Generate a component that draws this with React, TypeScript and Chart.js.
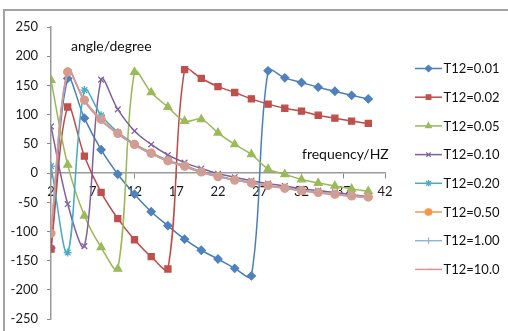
import React, { useEffect, useRef } from 'react';
import { Chart, registerables } from 'chart.js';
import { drawPoint } from 'chart.js/helpers';

Chart.register(...registerables);

const frequencies = [2, 4, 6, 8, 10, 12, 14, 16, 18, 20, 22, 24, 26, 28, 30, 32, 34, 36, 38, 40];
const xTickValues = [2, 7, 12, 17, 22, 27, 32, 37, 42];
const seriesNames = ['T12=0.01', 'T12=0.02', 'T12=0.05', 'T12=0.10', 'T12=0.20', 'T12=0.50', 'T12=1.00', 'T12=10.0'];

const t001 = [-128, 162, 94, 40, -2, -36, -66, -90, -113, -132, -147, -163, -176, 175, 163, 155, 147, 140, 133, 127];
const t002 = [-130, 113, 29, -33, -78, -114, -143, -164, 177, 162, 148, 138, 127, 118, 111, 106, 99, 94, 89, 85];
const t005 = [159, 14, -73, -127, -164, 173, 138, 113, 89, 92, 69, 49, 32, 7, -2, -11, -17, -22, -27, -31];
const t010 = [80, -53, -125, 160, 109, 72, 49, 31, 18, 8, -1, -7, -13, -18, -22, -27, -30, -33, -37, -40];
const t020 = [12, -136, 142, 99, 70, 50, 35, 22, 13, 3, -5, -11, -16, -21, -25, -29, -33, -36, -39, -41];
const t050 = [-103, 173, 125, 92, 68, 49, 34, 21, 12, 2, -6, -12, -17, -21, -26, -30, -33, -36, -39, -41];
const t100 = [-101, 175, 124, 91, 67, 48, 33, 21, 11, 2, -6, -12, -17, -22, -26, -30, -33, -36, -39, -41];
const t1000 = [-100, 176, 123, 90, 67, 48, 33, 20, 11, 1, -6, -12, -17, -22, -26, -30, -34, -37, -40, -42];

const seriesValues = [t001, t002, t005, t010, t020, t050, t100, t1000];

const lineColors = ['#4A7EBB', '#BE4B48', '#98B954', '#7D60A0', '#46AAC5', '#F79646', '#95B3D7', '#D99694'];
const markerColors = ['#4F81BD', '#C0504D', '#9BBB59', '#8064A2', '#4BACC6', '#E29A7C', '#95B3D7', '#D99694'];
const legendMarkerColors = ['#4F81BD', '#C0504D', '#9BBB59', '#8064A2', '#4BACC6', '#F79646', '#95B3D7', '#D99694'];
const markerStyles = ['rectRot', 'rect', 'triangle', 'crossRot', 'star', 'circle', 'line', 'dash'];
const markerRadii = [4, 4.3, 4.5, 4, 4, 4, 4, 4];
const markerRotations = [0, 0, 0, 0, 0, 0, 90, 0];

const FONT = 'Lato, "Noto Sans", sans-serif';

const overlayPlugin = {
  id: 'overlay',
  afterDraw(chart: any) {
    const ctx = chart.ctx;
    ctx.save();
    ctx.fillStyle = '#111';
    ctx.textBaseline = 'alphabetic';
    ctx.textAlign = 'left';
    ctx.font = `14px ${FONT}`;
    ctx.fillText('angle/degree', 71, 51);
    ctx.fillText('frequency/HZ', 302, 159);

    // legend
    ctx.font = `13px ${FONT}`;
    ctx.textBaseline = 'middle';
    for (let i = 0; i < seriesNames.length; i++) {
      const y = 68.5 + 28.7 * i;
      ctx.strokeStyle = lineColors[i];
      ctx.lineWidth = 1.5;
      ctx.beginPath();
      ctx.moveTo(415, y);
      ctx.lineTo(442, y);
      ctx.stroke();
      ctx.fillStyle = legendMarkerColors[i];
      ctx.strokeStyle = legendMarkerColors[i];
      ctx.lineWidth = 1.3;
      drawPoint(ctx, { pointStyle: markerStyles[i], radius: 3.2, rotation: markerRotations[i], borderWidth: 1.3 } as any, 428.5, y);
      ctx.fillStyle = '#111';
      ctx.fillText(seriesNames[i], 443.5, y + 0.5);
    }
    ctx.restore();
  },
};

export default function App() {
  const ref = useRef<HTMLCanvasElement | null>(null);

  useEffect(() => {
    if (!ref.current) return;
    Chart.defaults.font.family = FONT;
    const datasets = seriesValues.map((vals, i) => ({
      label: seriesNames[i],
      data: frequencies.map((f, j) => ({ x: f, y: vals[j] })),
      borderColor: lineColors[i],
      backgroundColor: markerColors[i],
      pointBackgroundColor: markerColors[i],
      pointBorderColor: markerColors[i],
      pointStyle: markerStyles[i],
      pointRadius: markerRadii[i],
      pointRotation: markerRotations[i],
      pointBorderWidth: 1.3,
      borderWidth: 1.5,
      tension: 0.35,
      fill: false,
      order: 8 - i,
    }));

    const chart = new Chart(ref.current, {
      type: 'line',
      data: { datasets },
      plugins: [overlayPlugin],
      options: {
        animation: false,
        responsive: false,
        devicePixelRatio: 1,
        layout: { padding: { left: 0, top: 27, right: 123, bottom: 7 } },
        plugins: { legend: { display: false }, tooltip: { enabled: false } },
        scales: {
          x: {
            type: 'linear',
            position: { y: 0 } as any,
            min: 2,
            max: 42,
            afterBuildTicks: (scale: any) => {
              scale.ticks = xTickValues.map((v) => ({ value: v }));
            },
            grid: { drawOnChartArea: false, drawTicks: true, tickLength: 5, color: '#888' },
            border: { display: true, color: '#9a9a9a', width: 1.5 },
            ticks: { color: '#1a1a1a', font: { size: 13, family: FONT }, padding: 6, maxRotation: 0, autoSkip: false },
          },
          y: {
            type: 'linear',
            position: 'left',
            min: -250,
            max: 250,
            afterFit: (scale: any) => {
              scale.width = 51;
            },
            grid: { drawOnChartArea: false, drawTicks: true, tickLength: 4, color: '#888' },
            border: { display: true, color: '#9a9a9a', width: 1.5 },
            ticks: { stepSize: 50, color: '#1a1a1a', font: { size: 13, family: FONT }, padding: 9 },
          },
        },
      },
    } as any);
    return () => chart.destroy();
  }, []);

  return (
    <div style={{ position: 'fixed', left: 0, top: 0, width: 508, height: 331, overflow: 'hidden', background: '#fff' }}>
      <div
        style={{
          position: 'absolute',
          left: 3,
          top: 9,
          width: 700,
          height: 500,
          border: '2px solid #a3a3a3',
          boxSizing: 'border-box',
        }}
      />
      <canvas ref={ref} width={508} height={336} style={{ position: 'absolute', left: 0, top: 0, display: 'block' }} />
    </div>
  );
}
